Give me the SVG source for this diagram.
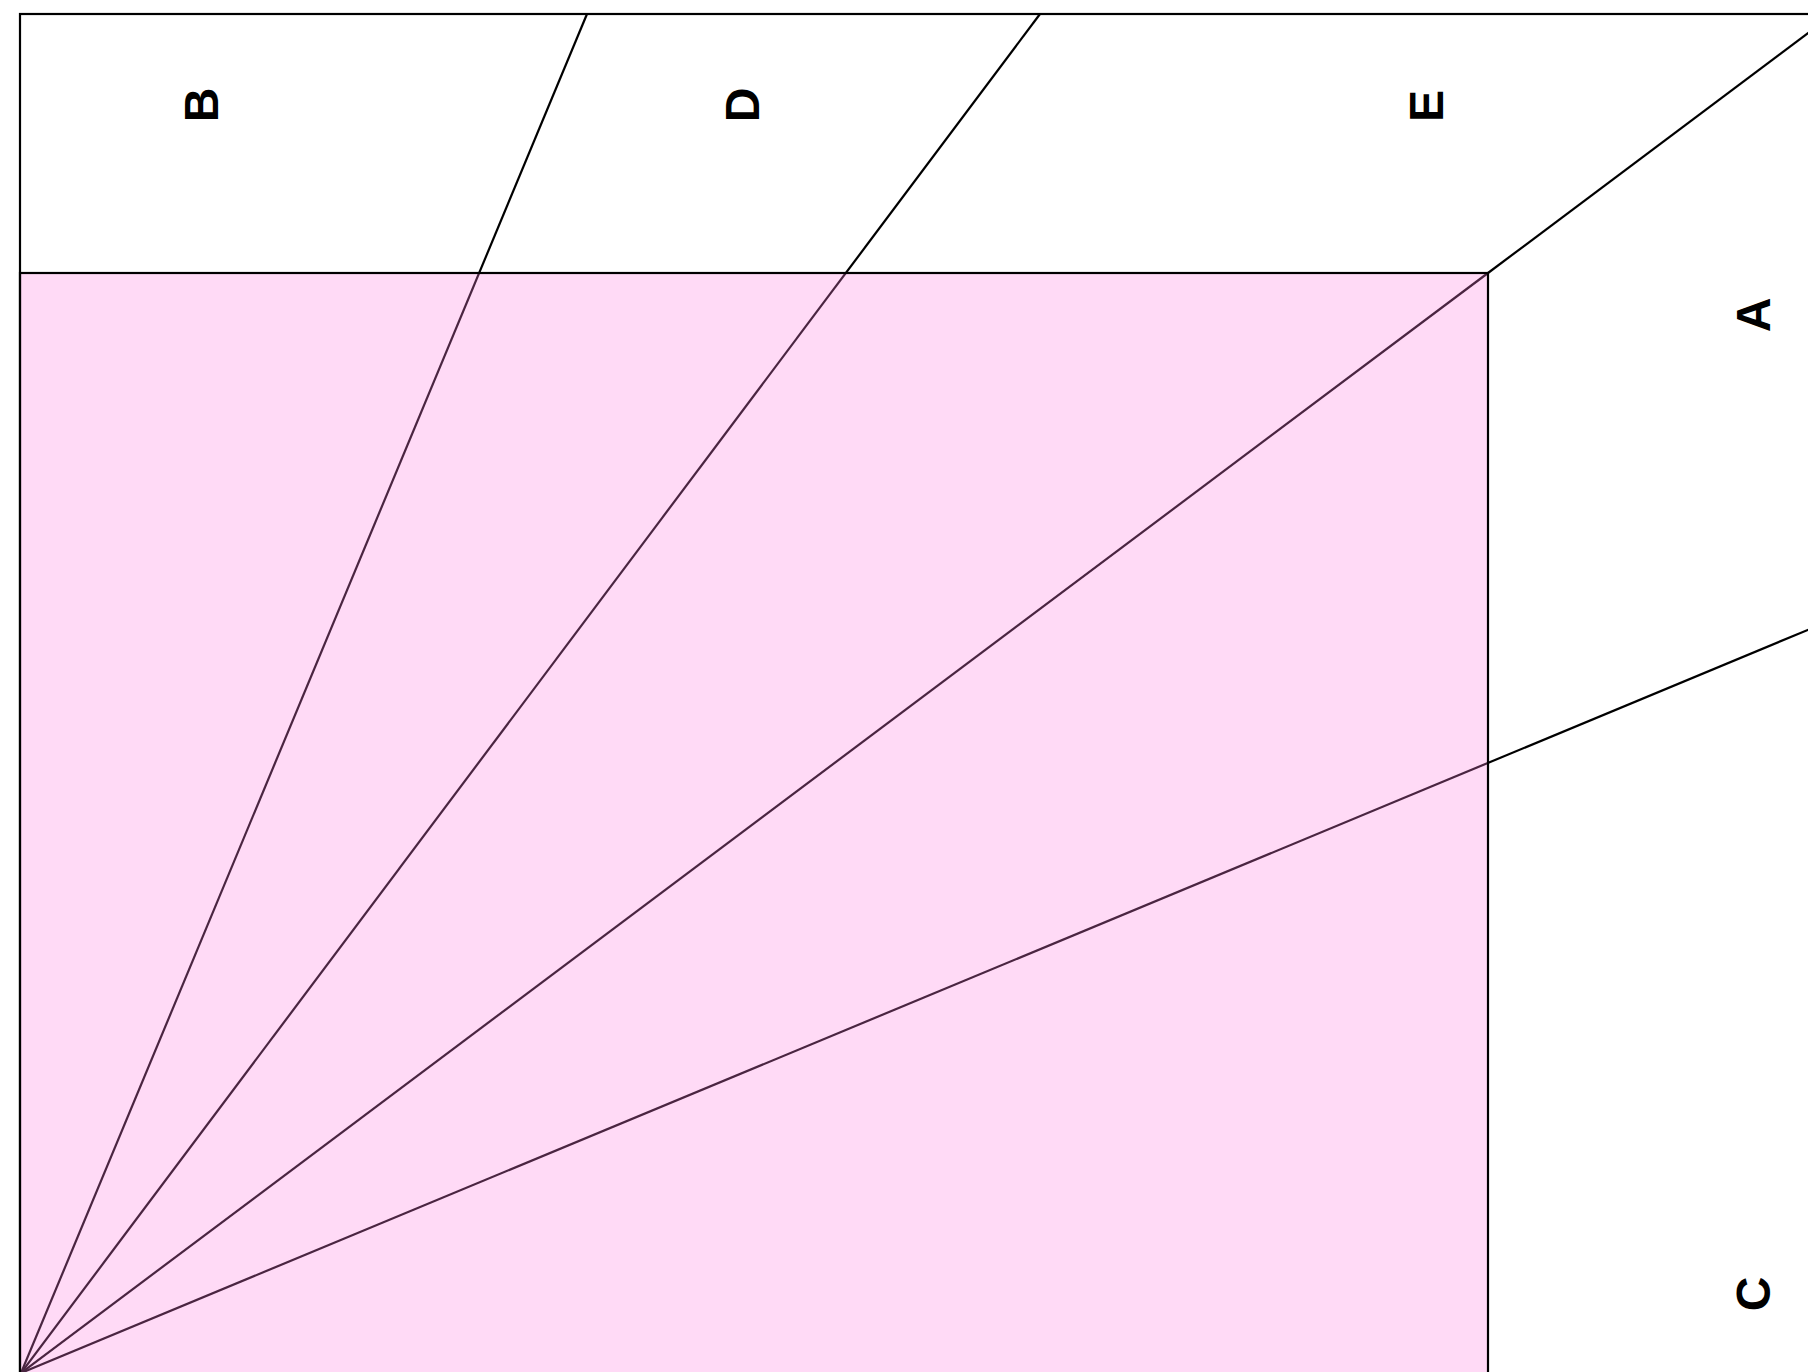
<svg xmlns="http://www.w3.org/2000/svg" width="1808" height="1372" viewBox="0 0 1808 1372">
<style>
.ln{stroke:#000;stroke-width:2.2;fill:none}
.lbl{font-family:"Liberation Sans",Arial,sans-serif;font-weight:bold;font-size:48px;fill:#000;text-anchor:middle}
</style>
<rect width="1808" height="1372" fill="#fff"/>
<g id="frame">
<rect x="20" y="14" width="1800" height="1370" class="ln"/>
</g>
<g id="connectors">
<line x1="21" y1="1373" x2="587" y2="14" class="ln"/>
<line x1="21" y1="1373" x2="1040" y2="14" class="ln"/>
<line x1="21" y1="1373" x2="1488" y2="273" class="ln"/>
<line x1="1488" y1="273" x2="1810" y2="31.6" class="ln"/>
<line x1="21" y1="1373" x2="1810" y2="629" class="ln"/>
</g>
<g id="region">
<rect x="20" y="273" width="1468" height="1110" fill="#ff7fe0" fill-opacity="0.29" stroke="#000" stroke-width="2.2"/>
</g>
<g id="B"><text class="lbl" x="217.5" y="105" transform="rotate(-90 217.5 105)">B</text></g>
<g id="D"><text class="lbl" x="758.5" y="105" transform="rotate(-90 758.5 105)">D</text></g>
<g id="E"><text class="lbl" x="1443" y="106" transform="rotate(-90 1443 106)">E</text></g>
<g id="A"><text class="lbl" x="1770" y="315" transform="rotate(-90 1770 315)">A</text></g>
<g id="C"><text class="lbl" x="1770" y="1294" transform="rotate(-90 1770 1294)">C</text></g>
</svg>
